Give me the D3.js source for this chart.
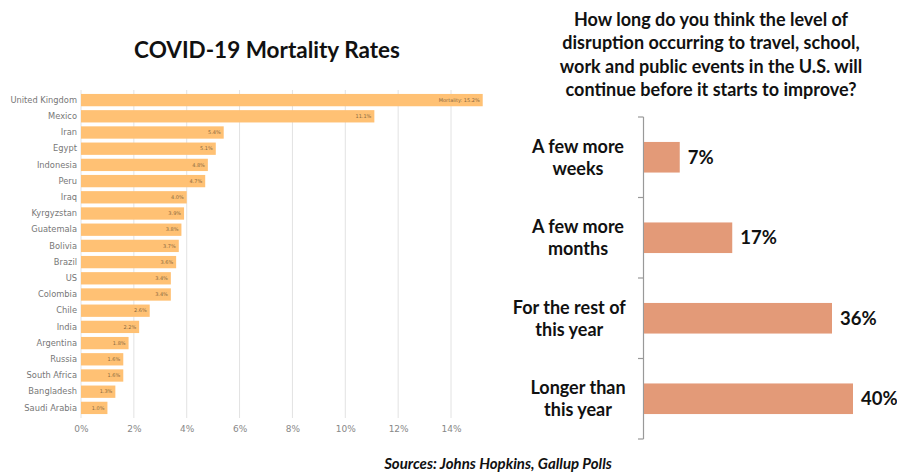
<!DOCTYPE html>
<html><head><meta charset="utf-8">
<script src="https://cdn.jsdelivr.net/npm/d3@7"></script>
<style>
html,body{margin:0;padding:0;background:#fff;}
svg{display:block;}
</style></head>
<body>
<svg id="c" width="897" height="472"></svg>
<script>
// ---- Left chart data ----
const countries = ["United Kingdom","Mexico","Iran","Egypt","Indonesia","Peru","Iraq","Kyrgyzstan","Guatemala","Bolivia","Brazil","US","Colombia","Chile","India","Argentina","Russia","South Africa","Bangladesh","Saudi Arabia"];
const mortality = [15.2,11.1,5.4,5.1,4.8,4.7,4.0,3.9,3.8,3.7,3.6,3.4,3.4,2.6,2.2,1.8,1.6,1.6,1.3,1.0];
const mortalityTicks = [0,2,4,6,8,10,12,14];
const leftTitle = "COVID-19 Mortality Rates";

// ---- Right chart data ----
const answers = [["A few more","weeks"],["A few more","months"],["For the rest of","this year"],["Longer than","this year"]];
const answerKeys = ["weeks","months","restOfYear","longer"];
const answerValues = [7,17,36,40];
const rightTitle = ["How long do you think the level of","disruption occurring to travel, school,","work and public events in the U.S. will","continue before it starts to improve?"];
const sourceText = "Sources: Johns Hopkins, Gallup Polls";

const svg = d3.select("#c");
const boldFont = "Lato, 'Open Sans', sans-serif";

// ===== Left chart =====
const lx = d3.scaleLinear().domain([0,14]).range([81,451]);
const ly = d3.scaleBand().domain(countries).range([92,416]).paddingInner(0.24).paddingOuter(0.12);

svg.append("text").attr("x",267).attr("y",58).attr("text-anchor","middle")
  .attr("font-family",boldFont).attr("font-weight","bold").attr("font-size",22.5)
  .attr("fill","#111").text(leftTitle);

const grid = svg.append("g");
grid.selectAll("line").data(mortalityTicks).join("line")
  .attr("x1",d=>lx(d)).attr("x2",d=>lx(d)).attr("y1",90).attr("y2",418)
  .attr("stroke","#e2e2e2").attr("stroke-width",1);

const xAxis = svg.append("g").attr("transform","translate(0,418)")
  .call(d3.axisBottom(lx).tickValues(mortalityTicks).tickFormat(d=>d+"%").tickSize(0).tickPadding(8));
xAxis.select(".domain").remove();
xAxis.selectAll("text").attr("font-family","'DejaVu Sans', Verdana, sans-serif").attr("font-size",9).attr("fill","#888");

svg.append("g").selectAll("rect").data(mortality).join("rect")
  .attr("x",lx(0)).attr("y",(d,i)=>ly(countries[i]))
  .attr("width",d=>lx(d)-lx(0)).attr("height",ly.bandwidth())
  .attr("fill","#FFC174");

const yAxisL = svg.append("g").attr("transform","translate(79,0)")
  .call(d3.axisLeft(ly).tickSize(0).tickPadding(2));
yAxisL.select(".domain").remove();
yAxisL.selectAll("text").attr("font-family","'DejaVu Sans', Verdana, sans-serif").attr("font-size",8.3).attr("fill","#777");

svg.append("g").selectAll("text").data(mortality).join("text")
  .attr("x",d=>lx(d)-3).attr("y",(d,i)=>ly(countries[i])+ly.bandwidth()/2)
  .attr("dy","0.35em").attr("text-anchor","end")
  .attr("font-family","'DejaVu Sans', sans-serif").attr("font-size",5).attr("fill","#8a6a40")
  .text((d,i)=> i===0 ? "Mortality: "+d.toFixed(1)+"%" : d.toFixed(1)+"%");

// ===== Right chart =====
const rt = svg.append("g");
rt.selectAll("text").data(rightTitle).join("text")
  .attr("x",711).attr("y",(d,i)=>26+i*23.3).attr("text-anchor","middle")
  .attr("font-family",boldFont).attr("font-weight","bold").attr("font-size",18)
  .attr("fill","#111").text(d=>d);

const rx = d3.scaleLinear().domain([0,40]).range([643,853]);
const ry = d3.scaleBand().domain(answerKeys).range([117,439]).paddingInner(0.62).paddingOuter(0.31);
const step = ry.step();
const y0 = ry.range()[0];

svg.append("line").attr("x1",643.5).attr("x2",643.5).attr("y1",y0).attr("y2",ry.range()[1])
  .attr("stroke","#999").attr("stroke-width",1.2);
svg.append("g").selectAll("line").data(d3.range(answerKeys.length+1)).join("line")
  .attr("x1",638).attr("x2",643.5).attr("y1",i=>y0+i*step).attr("y2",i=>y0+i*step)
  .attr("stroke","#999").attr("stroke-width",1.2);

svg.append("g").selectAll("rect").data(answerValues).join("rect")
  .attr("x",rx(0)+1).attr("y",(d,i)=>ry(answerKeys[i]))
  .attr("width",d=>rx(d)-rx(0)-1).attr("height",ry.bandwidth())
  .attr("fill","#E39A78");

svg.append("g").selectAll("text").data(answerValues).join("text")
  .attr("x",d=>rx(d)+8).attr("y",(d,i)=>ry(answerKeys[i])+ry.bandwidth()/2)
  .attr("dy","0.36em")
  .attr("font-family",boldFont).attr("font-weight","bold").attr("font-size",18.5)
  .attr("fill","#111").text(d=>d+"%");

// category labels: centred in a label box whose right edge is fixed; wide labels shift left
const labelCenter = 578, labelRight = 626;
const cat = svg.append("g").selectAll("text").data(answers).join("text")
  .attr("text-anchor","middle")
  .attr("font-family",boldFont).attr("font-weight","bold").attr("font-size",18)
  .attr("fill","#111");
cat.each(function(d,i){
  const cy = ry(answerKeys[i]) + ry.bandwidth()/2;
  const sel = d3.select(this);
  const sp = sel.selectAll("tspan").data(d).join("tspan")
    .attr("x",labelCenter).attr("y",(t,j)=>cy - 4.5 + j*22).text(t=>t);
  const w = this.getBBox().width;
  const cx = Math.min(labelCenter, labelRight - w/2);
  sp.attr("x",cx);
});

svg.append("text").attr("x",498).attr("y",469).attr("text-anchor","middle")
  .attr("font-family",boldFont).attr("font-weight","bold").attr("font-style","italic")
  .attr("font-size",15).attr("fill","#111").text(sourceText);
</script>
</body></html>
